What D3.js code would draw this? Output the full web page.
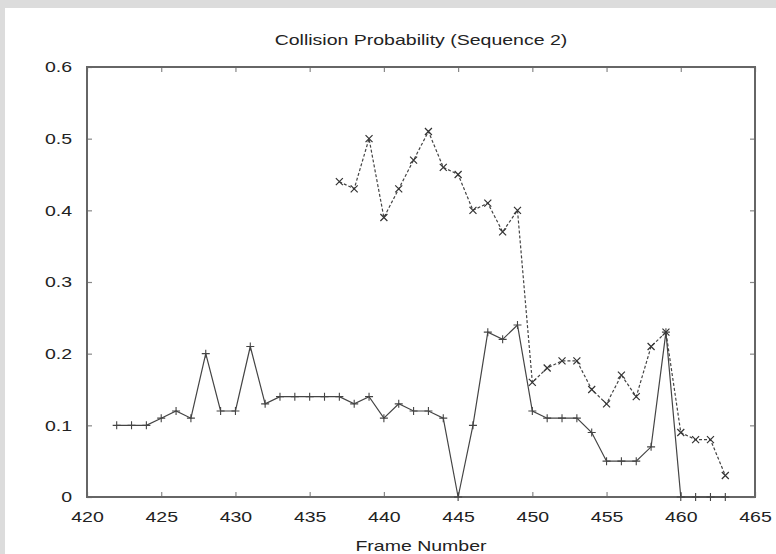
<!DOCTYPE html>
<html>
<head>
<meta charset="utf-8">
<script src="https://cdn.jsdelivr.net/npm/d3@7/dist/d3.min.js"></script>
<style>
  html, body { margin: 0; padding: 0; background: #dcdcdc; }
  svg { display: block; }
  text { font-family: "Liberation Sans", Arial, sans-serif; fill: #222; }
</style>
</head>
<body>
<div id="chart"></div>
<script>
const title = "Collision Probability (Sequence 2)";
const xLabel = "Frame Number";

const framesA = [422, 423, 424, 425, 426, 427, 428, 429, 430, 431, 432, 433, 434, 435, 436, 437, 438, 439, 440, 441, 442,
    443, 444, 445, 446, 447, 448, 449, 450, 451, 452, 453, 454, 455, 456, 457, 458, 459, 460, 461, 462, 463];
const probA = [0.10, 0.10, 0.10, 0.11, 0.12, 0.11, 0.20, 0.12, 0.12, 0.21, 0.13, 0.14, 0.14, 0.14, 0.14, 0.14, 0.13, 0.14, 0.11, 0.13, 0.12,
    0.12, 0.11, 0.00, 0.10, 0.23, 0.22, 0.24, 0.12, 0.11, 0.11, 0.11, 0.09, 0.05, 0.05, 0.05, 0.07, 0.23, 0.00, 0.00, 0.00, 0.00];

const framesB = [437, 438, 439, 440, 441, 442, 443, 444, 445, 446, 447, 448, 449, 450, 451, 452, 453, 454, 455, 456,
    457, 458, 459, 460, 461, 462, 463];
const probB = [0.44, 0.43, 0.50, 0.39, 0.43, 0.47, 0.51, 0.46, 0.45, 0.40, 0.41, 0.37, 0.40, 0.16, 0.18, 0.19, 0.19, 0.15, 0.13, 0.17,
    0.14, 0.21, 0.23, 0.09, 0.08, 0.08, 0.03];

const xTicks = [420, 425, 430, 435, 440, 445, 450, 455, 460, 465];
const yTicks = [0, 0.1, 0.2, 0.3, 0.4, 0.5, 0.6];

const width = 776, height = 554;
const margin = { top: 67, right: 21, bottom: 57, left: 87 };

const svg = d3.select("#chart").append("svg")
    .attr("width", width)
    .attr("height", height);

// white panel over the grey frame
svg.append("rect")
    .attr("x", 5).attr("y", 8)
    .attr("width", width - 5).attr("height", height - 8)
    .attr("fill", "#fff");

const x = d3.scaleLinear().domain([420, 465]).range([margin.left, width - margin.right]);
const y = d3.scaleLinear().domain([0, 0.6]).range([height - margin.bottom, margin.top]);

const tickLen = 5;
const axisColor = "#666";

// axes: ticks pointing inward, mirrored on top and right
const bottomAxis = svg.append("g")
    .attr("transform", `translate(0,${y(0)})`)
    .call(d3.axisBottom(x).tickValues(xTicks).tickFormat(d3.format("d")).tickSize(-tickLen).tickPadding(14));
const topAxis = svg.append("g")
    .attr("transform", `translate(0,${y(0.6)})`)
    .call(d3.axisTop(x).tickValues(xTicks).tickFormat("").tickSize(-tickLen));
const leftAxis = svg.append("g")
    .attr("transform", `translate(${x(420)},0)`)
    .call(d3.axisLeft(y).tickValues(yTicks).tickFormat(d => d === 0 ? "0" : d3.format(".1f")(d)).tickSize(-tickLen).tickPadding(15));
const rightAxis = svg.append("g")
    .attr("transform", `translate(${x(465)},0)`)
    .call(d3.axisRight(y).tickValues(yTicks).tickFormat("").tickSize(-tickLen));

[bottomAxis, topAxis, leftAxis, rightAxis].forEach(g => {
    g.select(".domain").remove();
    g.selectAll(".tick line").attr("stroke", "#888").attr("stroke-width", 1.2);
    g.selectAll(".tick text")
        .attr("font-size", 15)
        .attr("fill", "#222")
        .style("font-family", "'Liberation Sans', Arial, sans-serif");
});

// frame
svg.append("rect")
    .attr("x", x(420)).attr("y", y(0.6))
    .attr("width", x(465) - x(420)).attr("height", y(0) - y(0.6))
    .attr("fill", "none")
    .attr("stroke", axisColor)
    .attr("stroke-width", 2);

const seriesA = framesA.map((f, i) => ({ f: f, p: probA[i] }));
const seriesB = framesB.map((f, i) => ({ f: f, p: probB[i] }));

const line = d3.line().x(d => x(d.f)).y(d => y(d.p));

// solid line with plus markers
svg.append("path")
    .datum(seriesA)
    .attr("d", line)
    .attr("fill", "none")
    .attr("stroke", "#444")
    .attr("stroke-width", 1.2);

const m = 4;
svg.append("g").selectAll("path")
    .data(seriesA)
    .join("path")
    .attr("d", d => `M${x(d.f) - m},${y(d.p)}H${x(d.f) + m}M${x(d.f)},${y(d.p) - m}V${y(d.p) + m}`)
    .attr("stroke", "#444")
    .attr("stroke-width", 1.1)
    .attr("fill", "none");

// dashed line with cross markers
svg.append("path")
    .datum(seriesB)
    .attr("d", line)
    .attr("fill", "none")
    .attr("stroke", "#444")
    .attr("stroke-width", 1.2)
    .attr("stroke-dasharray", "3,2");

const c = 3.5;
svg.append("g").selectAll("path")
    .data(seriesB)
    .join("path")
    .attr("d", d => `M${x(d.f) - c},${y(d.p) - c}L${x(d.f) + c},${y(d.p) + c}M${x(d.f) - c},${y(d.p) + c}L${x(d.f) + c},${y(d.p) - c}`)
    .attr("stroke", "#333")
    .attr("stroke-width", 1.2)
    .attr("fill", "none");

// title and axis label
svg.append("text")
    .attr("x", (x(420) + x(465)) / 2)
    .attr("y", 45)
    .attr("text-anchor", "middle")
    .attr("font-size", 15)
    .text(title);

svg.append("text")
    .attr("x", (x(420) + x(465)) / 2)
    .attr("y", 551)
    .attr("text-anchor", "middle")
    .attr("font-size", 15)
    .text(xLabel);

// the original lettering is wider than Liberation Sans; stretch it horizontally
svg.selectAll("text").each(function() {
    const len = this.getComputedTextLength();
    if (len > 0) {
        d3.select(this)
            .attr("textLength", len * 1.3)
            .attr("lengthAdjust", "spacingAndGlyphs");
    }
});
</script>
</body>
</html>
